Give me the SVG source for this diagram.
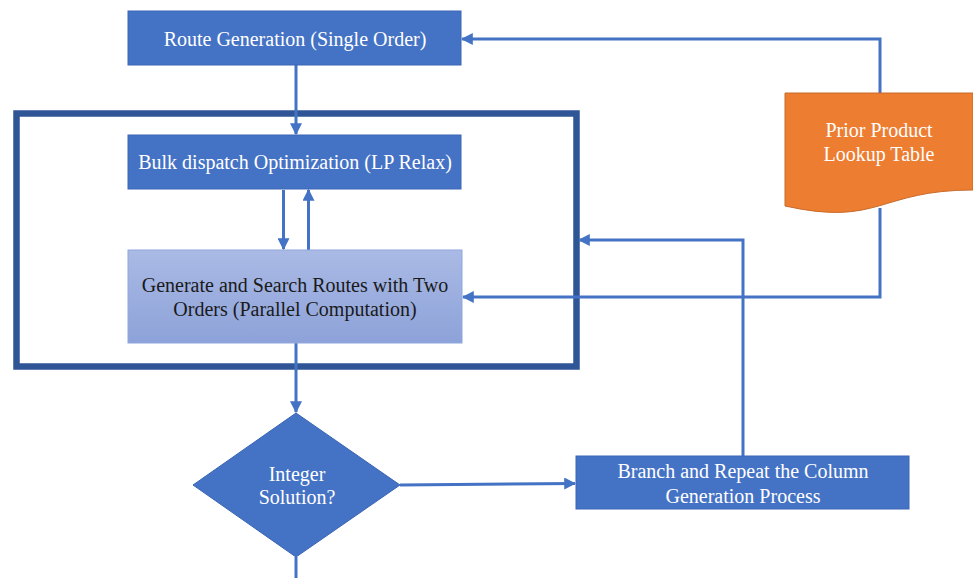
<svg xmlns="http://www.w3.org/2000/svg" width="973" height="578" viewBox="0 0 973 578">
<style>
.box{fill:#4472C4;stroke:#3A66B5;stroke-width:1}
.lbl{font-family:"Liberation Serif","Times New Roman",serif;font-size:20px;fill:#fff;text-anchor:middle}
.dark{fill:#1a1a1a}
.conn{fill:none;stroke:#4472C4;stroke-width:3}
</style>
<defs>
<marker id="arr" viewBox="0 0 10 10" refX="9" refY="5" markerWidth="4" markerHeight="4" markerUnits="strokeWidth" orient="auto">
<path d="M0,0 L10,5 L0,10 Z" fill="#4472C4"/>
</marker>
<linearGradient id="g1" x1="0" y1="0" x2="0" y2="1">
<stop offset="0" stop-color="#AABAE5"/>
<stop offset="1" stop-color="#8DA2D9"/>
</linearGradient>
</defs>
<rect x="0" y="0" width="973" height="578" fill="#fff"/>
<g id="frame"><rect x="16.5" y="113.5" width="560" height="253" fill="none" stroke="#2F5597" stroke-width="6.5"/></g>
<g id="connectors">
<path class="conn" d="M296,65 V134" marker-end="url(#arr)"/>
<path class="conn" d="M283.5,190 V249" marker-end="url(#arr)"/>
<path class="conn" d="M308.5,250 V190" marker-end="url(#arr)"/>
<path class="conn" d="M296,343 V412" marker-end="url(#arr)"/>
<path class="conn" d="M296,557 V578"/>
<path class="conn" d="M400,485 L575,483.5" marker-end="url(#arr)"/>
<path class="conn" d="M743,456 V240 H579" marker-end="url(#arr)"/>
<path class="conn" d="M880,93 V39 H462" marker-end="url(#arr)"/>
<path class="conn" d="M880,208 V297 H463" marker-end="url(#arr)"/>
</g>
<g id="route-gen">
<rect class="box" x="128" y="11" width="333" height="54"/>
<text class="lbl" x="295" y="46">Route Generation (Single Order)</text>
</g>
<g id="bulk">
<rect class="box" x="128" y="135" width="333" height="54"/>
<text class="lbl" x="295" y="169">Bulk dispatch Optimization (LP Relax)</text>
</g>
<g id="generate">
<rect x="128" y="250" width="334" height="93" fill="url(#g1)" stroke="#8FA8DE" stroke-width="1"/>
<text class="lbl dark" x="295" y="292">Generate and Search Routes with Two</text>
<text class="lbl dark" x="295" y="316">Orders (Parallel Computation)</text>
</g>
<g id="decision">
<polygon points="296,413 400,485 296,557 193,485" fill="#4472C4" stroke="#3A66B5" stroke-width="1"/>
<text class="lbl" x="297" y="481">Integer</text>
<text class="lbl" x="297" y="504">Solution?</text>
</g>
<g id="branch">
<rect class="box" x="576" y="456" width="333" height="53"/>
<text class="lbl" x="743" y="478">Branch and Repeat the Column</text>
<text class="lbl" x="743" y="503">Generation Process</text>
</g>
<g id="lookup">
<path d="M785,93 H973 V190 C879,190 879,227 785,206 Z" fill="#ED7D31" stroke="#C86A28" stroke-width="1"/>
<text class="lbl" x="879" y="137">Prior Product</text>
<text class="lbl" x="879" y="161">Lookup Table</text>
</g>
</svg>
